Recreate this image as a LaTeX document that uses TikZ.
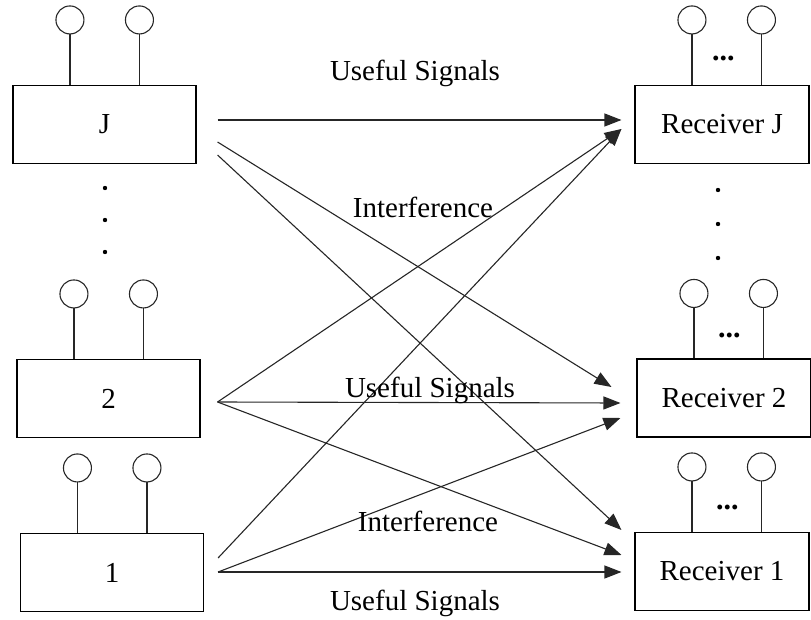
\documentclass[tikz,border=0pt]{standalone}
\usepackage{fontspec}
\setmainfont{Liberation Serif}
\usetikzlibrary{arrows.meta,calc,positioning}

% two antennas on top of a box
\newcommand{\antpair}[1]{%
  \foreach \dx in {57.5,127} {
    \draw[ant] ($(#1.north west)+(\dx,0)$) -- ++(0,-51);
    \draw[ant] ($(#1.north west)+(\dx,-65)$) circle [radius=14pt];
  }}

\begin{document}
\begin{tikzpicture}[x=1pt, y=-1pt, line width=1.1pt,
  tx/.style={draw, rectangle, minimum width=183pt, minimum height=78pt, inner sep=0pt, font=\fontsize{29}{32}\selectfont},
  rx/.style={tx, minimum width=174pt},
  lbl/.style={font=\fontsize{29}{32}\selectfont, inner sep=0pt},
  sig/.style={draw=black!85, -{Triangle[length=17pt,width=13pt]}},
  ant/.style={draw=black!85},
  ddd/.style={font=\bfseries\fontsize{30}{32}\selectfont, inner sep=0pt}]

\useasboundingbox (0,0) rectangle (811,620);

% transmitters
\node[tx] (txJ) at (104.5,124.5) {J};
\node[tx] (tx2) at (108.5,398.5) {2};
\node[tx] (tx1) at (112,572.5) {1};
\antpair{txJ}
\antpair{tx2}
\antpair{tx1}

% receivers
\node[rx] (rxJ) at (722,124.5) {Receiver J};
\node[rx] (rx2) at (724,398) {Receiver 2};
\node[rx] (rx1) at (722,571.5) {Receiver 1};
\antpair{rxJ}
\antpair{rx2}
\antpair{rx1}
\node[ddd] (dotsJ) at ($(rxJ.north west)+(89,-26)$) {...};
\node[ddd] (dots2) at ($(rx2.north west)+(93,-23)$) {...};
\node[ddd] (dots1) at ($(rx1.north west)+(93,-24)$) {...};

% vertical dots
\foreach \yy in {188,220,252} \fill (105,\yy) circle [radius=2.2pt];
\foreach \yy in {190,224,258} \fill (718,\yy) circle [radius=2.2pt];

% signals
\draw[sig] ([shift={(21,-4.5)}]txJ.east) -- ([shift={(-13,-4.5)}]rxJ.west);
\draw[sig] ([shift={(21,17.5)}]txJ.east) -- ([shift={(-25,-11)}]rx2.west);
\draw[sig] ([shift={(21,30.5)}]txJ.east) -- ([shift={(-13,-41.5)}]rx1.west);

\draw[sig] ([shift={(17,3.5)}]tx2.east) -- ([shift={(-13,4.5)}]rxJ.west);
\draw[sig] ([shift={(17,3.5)}]tx2.east) -- ([shift={(-16,5)}]rx2.west);
\draw[sig] ([shift={(17,3.5)}]tx2.east) -- ([shift={(-13,-16.5)}]rx1.west);

\draw[sig] ([shift={(14,-14.5)}]tx1.east) -- ([shift={(-13,4.5)}]rxJ.west);
\draw[sig] ([shift={(14,-0.5)}]tx1.east) -- ([shift={(-16,20)}]rx2.west);
\draw[sig] ([shift={(14,-0.5)}]tx1.east) -- ([shift={(-13,0.5)}]rx1.west);

% labels
\node[lbl] (useTop) at (415,73) {Useful Signals};
\node[lbl] (intTop) at (423,207) {Interference};
\node[lbl] (useMid) at (430,390) {Useful Signals};
\node[lbl] (intBot) at (428,521) {Interference};
\node[lbl] (useBot) at (415,603) {Useful Signals};
\end{tikzpicture}
\end{document}
